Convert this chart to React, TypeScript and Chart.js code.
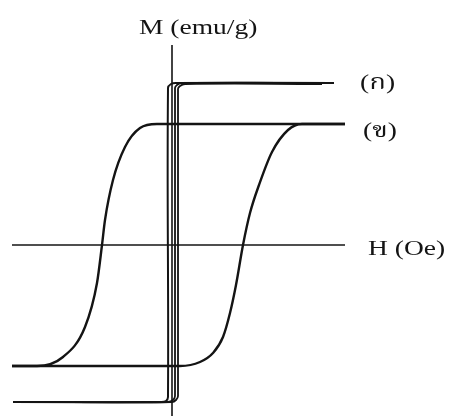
import React, { useEffect, useRef } from "react";
import { Chart, registerables } from "chart.js";

Chart.register(...registerables);

// Extents of the two axis lines (field H, magnetisation M)
const fieldAxisH: number[] = [-160, 173];
const momentAxisM: number[] = [200, -171];

// Loop (ก): nearly square loop, descending branch
const loopADownH: number[] = [162, 4, -1, -4, -4, -6, -11, -159];
const loopADownM: number[] = [162, 162, 161, 157, -152, -156, -157, -157];
// Loop (ก): ascending branches (drawn twice, slightly apart)
const loopAUpH: number[] = [-159, -4, 1, 3, 3, 5, 9, 162];
const loopAUpM: number[] = [-157, -157, -155, -151, 157, 160, 162, 162];
const loopAUp2H: number[] = [-150, 0, 4, 6, 6, 8, 13, 150];
const loopAUp2M: number[] = [-157, -157, -155, -151, 156, 159, 161, 161];

// Loop (ข): wider loop, descending branch
const loopBDownH: number[] = [173, -15, -32, -47, -59, -67, -70, -75, -87, -109, -135, -160];
const loopBDownM: number[] = [121, 121, 117, 98, 65, 25, 0, -38, -82, -112, -121, -121];
// Loop (ข): ascending branch
const loopBUpH: number[] = [-160, 8, 28, 41, 51, 58, 64, 71, 78, 87, 100, 116, 130, 173];
const loopBUpM: number[] = [-121, -121, -117, -108, -92, -68, -40, 0, 32, 60, 93, 115, 121, 121];

const pts = (hs: number[], ms: number[]) => hs.map((h, i) => ({ x: h, y: ms[i] }));

const INK = "#141414";
const SERIF = '"Liberation Serif", "Times New Roman", serif';
const THAI = '"Liberation Serif", "Noto Serif Thai", "Noto Sans Thai", "Garuda", "Loma", "Norasi", serif';

const labelsPlugin = {
  id: "loopLabels",
  afterDatasetsDraw(chart: any) {
    const { ctx } = chart;
    const xs = chart.scales.x;
    const ys = chart.scales.y;
    const put = (text: string, px: number, py: number, font: string) => {
      ctx.save();
      ctx.translate(px, py);
      ctx.scale(1.25, 1);
      ctx.font = font;
      ctx.fillStyle = INK;
      ctx.textAlign = "left";
      ctx.textBaseline = "alphabetic";
      ctx.fillText(text, 0, 0);
      ctx.restore();
    };
    const x0 = xs.getPixelForValue(0);
    const y0 = ys.getPixelForValue(0);
    put("M (emu/g)", x0 - 33, ys.getPixelForValue(momentAxisM[0]) - 11, `22px ${SERIF}`);
    put("H (Oe)", xs.getPixelForValue(fieldAxisH[1]) + 23, y0 + 10, `22px ${SERIF}`);
    put("(ก)", xs.getPixelForValue(loopADownH[0]) + 26, ys.getPixelForValue(loopADownM[0]) + 6, `22px ${THAI}`);
    put("(ข)", xs.getPixelForValue(loopBDownH[0]) + 18, ys.getPixelForValue(loopBDownM[0]) + 13, `22px ${THAI}`);
  },
};

export default function App() {
  const ref = useRef<HTMLCanvasElement | null>(null);

  useEffect(() => {
    if (!ref.current) return;
    const smooth = (data: { x: number; y: number }[], width: number) => ({
      data,
      showLine: true,
      borderColor: INK,
      borderWidth: width,
      pointRadius: 0,
      cubicInterpolationMode: "monotone" as const,
      fill: false,
    });
    const square = (data: { x: number; y: number }[], width: number) => ({
      data,
      showLine: true,
      borderColor: INK,
      borderWidth: width,
      pointRadius: 0,
      tension: 0.4,
      fill: false,
    });
    const straight = (data: { x: number; y: number }[]) => ({
      data,
      showLine: true,
      borderColor: INK,
      borderWidth: 1.6,
      pointRadius: 0,
      tension: 0,
      fill: false,
    });
    const chart = new Chart(ref.current, {
      type: "scatter",
      data: {
        datasets: [
          straight(pts(fieldAxisH, [0, 0])),
          straight(pts([0, 0], momentAxisM)),
          square(pts(loopADownH, loopADownM), 2),
          square(pts(loopAUpH, loopAUpM), 1.8),
          square(pts(loopAUp2H, loopAUp2M), 1.8),
          smooth(pts(loopBDownH, loopBDownM), 2.4),
          smooth(pts(loopBUpH, loopBUpM), 2.4),
        ],
      },
      options: {
        animation: false,
        responsive: false,
        devicePixelRatio: 1,
        layout: { padding: 0 },
        plugins: { legend: { display: false }, tooltip: { enabled: false }, title: { display: false } },
        scales: {
          x: { type: "linear", min: -172, max: 277, display: false },
          y: { type: "linear", min: -171, max: 245, display: false },
        },
      },
      plugins: [labelsPlugin],
    });
    return () => chart.destroy();
  }, []);

  return (
    <div style={{ position: "absolute", left: 0, top: 0, width: 449, height: 416, background: "#fff" }}>
      <canvas ref={ref} width={449} height={416} style={{ width: 449, height: 416, display: "block" }} />
    </div>
  );
}
